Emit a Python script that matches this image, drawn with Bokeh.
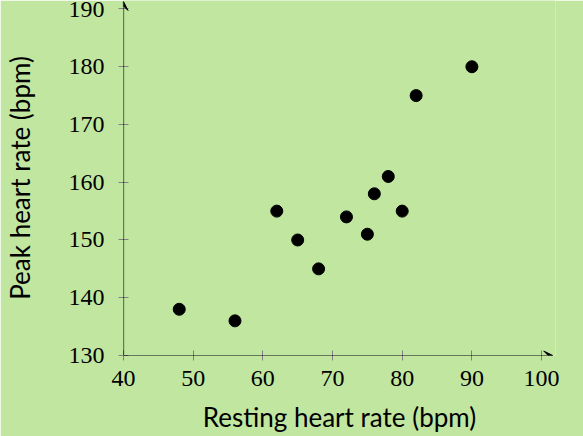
from bokeh.plotting import figure
from bokeh.embed import file_html
from bokeh.resources import INLINE
from bokeh.models import Arrow, VeeHead, FixedTicker

# Data
resting = [48, 56, 62, 65, 68, 72, 75, 76, 78, 80, 82, 90]
peak = [138, 136, 155, 150, 145, 154, 151, 158, 161, 155, 175, 180]
x_ticks = [40, 50, 60, 70, 80, 90, 100]
y_ticks = [130, 140, 150, 160, 170, 180, 190]
x_label = "Resting heart rate (bpm)"
y_label = "Peak heart rate (bpm)"

BG = "#c1e6a0"

p = figure(width=583, height=436, x_range=(40, 102.0), y_range=(130, 191.47),
           output_backend="svg", toolbar_location=None,
           min_border_left=121, min_border_right=28, min_border_top=0, min_border_bottom=81)
p.background_fill_color = BG
p.border_fill_color = BG
p.outline_line_color = None
p.xgrid.grid_line_color = None
p.ygrid.grid_line_color = None

p.scatter(resting, peak, size=12, color="black")

for ax in (p.xaxis[0], p.yaxis[0]):
    ax.axis_line_color = None
    ax.major_tick_line_color = "#808080"
    ax.major_tick_in = 5
    ax.major_tick_out = 5
    ax.minor_tick_line_color = None
    ax.major_label_text_font = "Liberation Serif"
    ax.major_label_text_font_size = "24px"
    ax.major_label_text_color = "black"
    ax.axis_label_text_font = "Lato"
    ax.axis_label_text_font_size = "26px"
    ax.axis_label_text_font_style = "normal"
    ax.axis_label_text_color = "black"

p.xaxis.ticker = FixedTicker(ticks=x_ticks)
p.yaxis.ticker = FixedTicker(ticks=y_ticks)
p.xaxis.axis_label = x_label
p.yaxis.axis_label = y_label
p.xaxis.major_label_standoff = 10
p.yaxis.major_label_standoff = 14
p.xaxis.axis_label_standoff = 12
p.yaxis.axis_label_standoff = 30

p.add_layout(Arrow(end=VeeHead(size=9, line_color="black", fill_color="black", line_width=1),
                   x_start=40, y_start=130, x_end=101.6, y_end=130,
                   line_color="black", line_width=1.2))
p.add_layout(Arrow(end=VeeHead(size=9, line_color="black", fill_color="black", line_width=1),
                   x_start=40, y_start=130, x_end=40, y_end=191.3,
                   line_color="black", line_width=1.2))

html = file_html(p, INLINE)
html = html.replace("<body>", '<body style="background-color:%s;">' % BG, 1)
open("out.html", "w").write(html)
